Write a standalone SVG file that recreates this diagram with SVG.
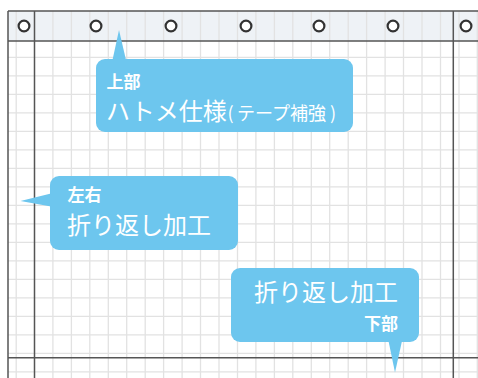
<svg xmlns="http://www.w3.org/2000/svg" width="478" height="378" viewBox="0 0 478 378">
<style>
.grid line{stroke:#e2e2e2;stroke-width:1.3}
.frame{stroke:#555;stroke-width:1.5;fill:none}
.grom{fill:#fff;stroke:#333;stroke-width:2.2}
.bub{fill:#6DC6EE}
text{fill:#fff;font-family:"Noto Sans CJK JP","Noto Sans",sans-serif}
.sm{font-size:17px;font-weight:bold}
.lg{font-size:24px}
.md{font-size:18px}
</style>
<rect x="0" y="0" width="478" height="378" fill="#fff"/>
<rect x="8" y="11" width="470" height="30" fill="#EEF2F6"/>
<g class="grid">
<line x1="16.2" y1="11" x2="16.2" y2="378"/>
<line x1="52.9" y1="11" x2="52.9" y2="378"/>
<line x1="71.4" y1="11" x2="71.4" y2="378"/>
<line x1="89.8" y1="11" x2="89.8" y2="378"/>
<line x1="108.3" y1="11" x2="108.3" y2="378"/>
<line x1="126.7" y1="11" x2="126.7" y2="378"/>
<line x1="145.2" y1="11" x2="145.2" y2="378"/>
<line x1="163.6" y1="11" x2="163.6" y2="378"/>
<line x1="182.1" y1="11" x2="182.1" y2="378"/>
<line x1="200.5" y1="11" x2="200.5" y2="378"/>
<line x1="219" y1="11" x2="219" y2="378"/>
<line x1="237.5" y1="11" x2="237.5" y2="378"/>
<line x1="255.9" y1="11" x2="255.9" y2="378"/>
<line x1="274.4" y1="11" x2="274.4" y2="378"/>
<line x1="292.8" y1="11" x2="292.8" y2="378"/>
<line x1="311.3" y1="11" x2="311.3" y2="378"/>
<line x1="329.7" y1="11" x2="329.7" y2="378"/>
<line x1="348.2" y1="11" x2="348.2" y2="378"/>
<line x1="366.6" y1="11" x2="366.6" y2="378"/>
<line x1="385.1" y1="11" x2="385.1" y2="378"/>
<line x1="403.5" y1="11" x2="403.5" y2="378"/>
<line x1="422" y1="11" x2="422" y2="378"/>
<line x1="440.5" y1="11" x2="440.5" y2="378"/>
<line x1="459" y1="11" x2="459" y2="378"/>
<line x1="477.3" y1="11" x2="477.3" y2="378"/>
<line x1="8" y1="57.3" x2="478" y2="57.3"/>
<line x1="8" y1="75.8" x2="478" y2="75.8"/>
<line x1="8" y1="94.3" x2="478" y2="94.3"/>
<line x1="8" y1="112.8" x2="478" y2="112.8"/>
<line x1="8" y1="131.3" x2="478" y2="131.3"/>
<line x1="8" y1="149.8" x2="478" y2="149.8"/>
<line x1="8" y1="168.3" x2="478" y2="168.3"/>
<line x1="8" y1="186.8" x2="478" y2="186.8"/>
<line x1="8" y1="205.3" x2="478" y2="205.3"/>
<line x1="8" y1="223.8" x2="478" y2="223.8"/>
<line x1="8" y1="242.3" x2="478" y2="242.3"/>
<line x1="8" y1="260.8" x2="478" y2="260.8"/>
<line x1="8" y1="279.3" x2="478" y2="279.3"/>
<line x1="8" y1="297.8" x2="478" y2="297.8"/>
<line x1="8" y1="316.3" x2="478" y2="316.3"/>
<line x1="8" y1="334.8" x2="478" y2="334.8"/>
<line x1="8" y1="353.3" x2="478" y2="353.3"/>
<line x1="8" y1="371.8" x2="478" y2="371.8"/>
</g>
<g id="frame">
<line class="frame" x1="8" y1="11" x2="478" y2="11"/>
<line class="frame" x1="8" y1="11" x2="8" y2="378" stroke="#777"/>
<line class="frame" x1="8" y1="41" x2="478" y2="41" stroke="#333"/>
<line class="frame" x1="34.5" y1="11" x2="34.5" y2="378"/>
<line class="frame" x1="453.3" y1="11" x2="453.3" y2="378"/>
<line class="frame" x1="8" y1="357.7" x2="478" y2="357.7" stroke="#666" stroke-width="2"/>
</g>
<g id="grommets">
<circle class="grom" cx="24" cy="26" r="5.4"/>
<circle class="grom" cx="96" cy="26" r="5.4"/>
<circle class="grom" cx="171" cy="26" r="5.4"/>
<circle class="grom" cx="246" cy="26" r="5.4"/>
<circle class="grom" cx="319" cy="26" r="5.4"/>
<circle class="grom" cx="393" cy="26" r="5.4"/>
<circle class="grom" cx="466" cy="26" r="5.4"/>
</g>
<g id="callout-top">
<rect class="bub" x="96" y="59" width="257" height="73" rx="9"/>
<path class="bub" d="M112.5 60 L119 30 L126 60 Z"/>
<text class="sm" x="106.5" y="88">上部</text>
<text y="120"><tspan class="lg" x="106">ハトメ仕様</tspan><tspan class="md" x="227.5">(</tspan><tspan class="md" x="237">テープ補強</tspan><tspan class="md" x="330">)</tspan></text>
</g>
<g id="callout-left">
<rect class="bub" x="50" y="176" width="188" height="74" rx="9"/>
<path class="bub" d="M51 193.5 L20.5 201 L51 206.5 Z"/>
<text class="sm" x="67.5" y="201">左右</text>
<text class="lg" x="67" y="234">折り返し加工</text>
</g>
<g id="callout-bottom">
<rect class="bub" x="231" y="268" width="188" height="74" rx="9"/>
<path class="bub" d="M388.5 341 L395 372.5 L402 341 Z"/>
<text class="lg" x="398" y="301" text-anchor="end">折り返し加工</text>
<text class="sm" x="398" y="330" text-anchor="end">下部</text>
</g>
</svg>
